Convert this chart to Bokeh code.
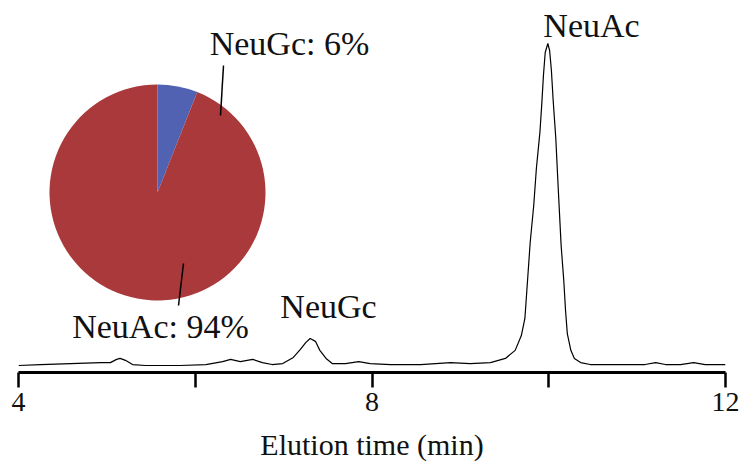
from bokeh.plotting import figure
from bokeh.models import Range1d, Label, FixedTicker
from bokeh.embed import file_html
from bokeh.resources import INLINE
import math

# ---- chromatogram data (elution time in min, relative signal) ----
time_min = [4.00, 4.25, 4.59, 4.93, 5.04, 5.11, 5.15, 5.21, 5.29, 5.44, 5.83,
            6.12, 6.31, 6.40, 6.51, 6.65, 6.76, 6.87, 6.99, 7.11, 7.19, 7.25,
            7.30, 7.36, 7.41, 7.48, 7.55, 7.70, 7.85, 7.98, 8.21, 8.55, 8.89,
            9.11, 9.34, 9.51, 9.62, 9.69, 9.73, 9.76, 9.79, 9.83, 9.86, 9.90,
            9.92, 9.94, 9.96, 9.99, 10.01, 10.03, 10.05, 10.08, 10.10, 10.12,
            10.14, 10.17, 10.19, 10.21, 10.25, 10.29, 10.36, 10.47, 10.81,
            11.09, 11.21, 11.32, 11.49, 11.64, 11.77, 12.00]
signal = [0.0, 0.3, 0.6, 0.9, 0.9, 1.9, 2.2, 1.6, 0.3, 0.0, 0.0,
          0.3, 1.2, 1.9, 1.2, 1.9, 0.9, 0.3, 0.6, 2.5, 5.0, 7.1,
          8.4, 7.5, 4.7, 2.2, 0.6, 0.6, 1.2, 0.6, 0.3, 0.3, 0.9,
          0.6, 0.9, 2.2, 4.7, 9.3, 14.6, 26.4, 38.2, 49.7, 61.2, 72.4,
          80.7, 90.1, 97.2, 100.0, 97.8, 91.6, 82.3, 70.5, 59.0, 48.1,
          37.3, 26.4, 17.1, 9.9, 4.7, 2.2, 0.9, 0.3, 0.3,
          0.3, 0.9, 0.3, 0.3, 0.9, 0.3, 0.3]

# ---- pie data ----
pie_names = ["NeuGc", "NeuAc"]
pie_shares = [6, 94]
pie_colors = ["#5062B1", "#A9393A"]

# ---- axis ticks ----
tick_values = [4, 6, 8, 10, 12]
tick_labels = {4: "4", 6: "", 8: "8", 10: "", 12: "12"}

FONT = "Liberation Serif"

# layout helpers: convert reference-picture pixels into data coordinates
X0_PX, PX_PER_MIN = 18.0, 88.375
BASE_PX, PX_PER_UNIT = 365.0, 3.22
def px_x(px):
    return 4 + (px - X0_PX) / PX_PER_MIN
def px_y(py):
    return (BASE_PX - py) / PX_PER_UNIT

p = figure(width=740, height=467, output_backend="svg", toolbar_location=None,
           x_range=Range1d(4, 12), y_range=Range1d(px_y(372), px_y(10)),
           min_border_left=18, min_border_right=15, min_border_top=10,
           min_border_bottom=95, y_axis_location=None)
p.outline_line_color = None
p.grid.visible = False
p.background_fill_color = "white"
p.border_fill_color = "white"

p.line(time_min, signal, line_color="black", line_width=1.2)

# pie inset
cx, cy = px_x(157), px_y(192)
total = sum(pie_shares)
start = math.pi / 2
for name, share, col in zip(pie_names, pie_shares, pie_colors):
    end = start - share / total * 2 * math.pi
    p.wedge(x=cx, y=cy, radius=108, radius_units="screen",
            start_angle=start, end_angle=end, direction="clock",
            fill_color=col, line_color=None)
    start = end

# leader lines
p.segment(x0=[px_x(223), px_x(183)], y0=[px_y(65), px_y(263)],
          x1=[px_x(220), px_x(178)], y1=[px_y(115), px_y(305)],
          line_color="black", line_width=1.5)

labels = [
    ("NeuAc", px_x(591), px_y(25)),
    ("NeuGc", px_x(328), px_y(306)),
    ("NeuGc: 6%", px_x(289), px_y(43)),
    ("NeuAc: 94%", px_x(160), px_y(326)),
]
for txt, lx, ly in labels:
    p.add_layout(Label(x=lx, y=ly, text=txt, text_font=FONT,
                       text_font_size="34px", text_align="center",
                       text_baseline="alphabetic", text_color="#111111"))

ax = p.xaxis[0]
ax.ticker = FixedTicker(ticks=tick_values)
ax.major_label_overrides = tick_labels
ax.minor_tick_line_color = None
ax.axis_line_width = 3
ax.axis_line_color = "black"
ax.major_tick_line_width = 2.5
ax.major_tick_line_color = "black"
ax.major_tick_in = 0
ax.major_tick_out = 15
ax.major_label_standoff = 5
ax.major_label_text_font = FONT
ax.major_label_text_font_size = "28px"
ax.major_label_text_color = "#111111"
ax.axis_label = "Elution time (min)"
ax.axis_label_text_font = FONT
ax.axis_label_text_font_size = "30px"
ax.axis_label_text_font_style = "normal"
ax.axis_label_text_color = "#111111"
ax.axis_label_standoff = 14

open("out.html", "w").write(file_html(p, INLINE))
